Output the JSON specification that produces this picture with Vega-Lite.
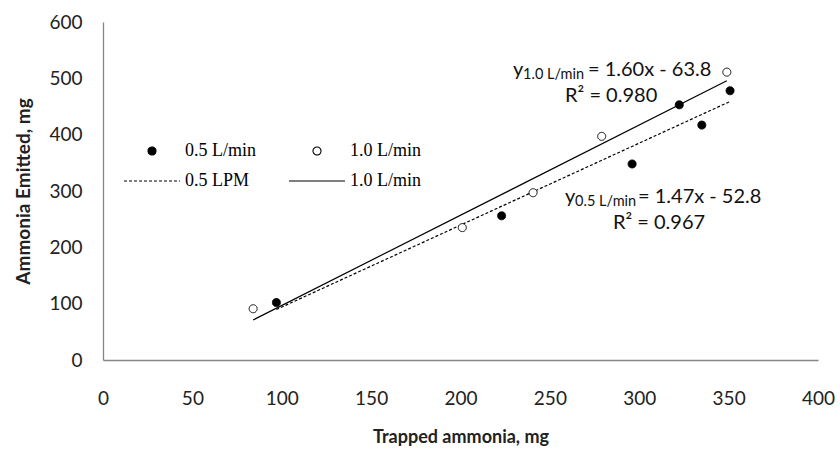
{
  "$schema": "https://vega.github.io/schema/vega-lite/v6.json",
  "width": 715,
  "height": 338,
  "autosize": {"type": "none"},
  "padding": {"left": 103, "top": 22, "right": 22, "bottom": 89},
  "background": "white",
  "config": {
    "view": {"stroke": null},
    "font": "Lato",
    "legend": {
      "title": null, "orient": "none", "legendX": 40, "legendY": 120,
      "direction": "horizontal",
      "columns": 2, "columnPadding": 30, "rowPadding": 12,
      "labelFont": "Liberation Serif", "labelFontSize": 18, "labelColor": "black", "labelOffset": 24,
      "symbolSize": 64, "symbolStrokeWidth": 1.1, "symbolOpacity": 1
    }
  },
  "datasets": {
    "pts": [
      {"key": "pt05", "x": 97, "y": 102},
      {"key": "pt05", "x": 223, "y": 256},
      {"key": "pt05", "x": 296, "y": 348},
      {"key": "pt05", "x": 322.4, "y": 453},
      {"key": "pt05", "x": 335, "y": 417},
      {"key": "pt05", "x": 350.8, "y": 478},
      {"key": "pt10", "x": 84, "y": 91},
      {"key": "pt10", "x": 201, "y": 235},
      {"key": "pt10", "x": 240.6, "y": 297},
      {"key": "pt10", "x": 279, "y": 397},
      {"key": "pt10", "x": 349, "y": 511}
    ],
    "ann": [
      {"kind": "main", "x": 229.4, "y": 504.1, "label": "y"},
      {"kind": "main", "x": 271.3, "y": 504.1, "label": "= 1.60x - 63.8"},
      {"kind": "main", "x": 258.5, "y": 458, "label": "R² = 0.980"},
      {"kind": "main", "x": 258.5, "y": 278.7, "label": "y"},
      {"kind": "main", "x": 299.3, "y": 278.7, "label": "= 1.47x - 52.8"},
      {"kind": "main", "x": 285.3, "y": 232.5, "label": "R² = 0.967"},
      {"kind": "sub", "x": 235, "y": 498.8, "label": "1.0 L/min"},
      {"kind": "sub", "x": 264.1, "y": 273.4, "label": "0.5 L/min"}
    ]
  },
  "encoding": {
    "x": {
      "field": "x", "type": "quantitative",
      "scale": {"domain": [0, 400], "nice": false, "zero": false},
      "axis": {
        "title": "Trapped ammonia, mg",
        "values": [0, 50, 100, 150, 200, 250, 300, 350, 400],
        "grid": false, "ticks": false, "tickSize": 0,
        "domainColor": "#868686", "domainWidth": 1.3,
        "labelFont": "Lato", "labelFontSize": 19, "labelColor": "#222222",
        "labelPadding": 29, "labelFlush": false, "labelOverlap": false,
        "titleFont": "Lato", "titleFontSize": 18, "titleFontWeight": "bold", "titleColor": "#222222",
        "titleY": 77, "titleBaseline": "middle"
      }
    },
    "y": {
      "field": "y", "type": "quantitative",
      "scale": {"domain": [0, 600], "nice": false, "zero": false},
      "axis": {
        "title": "Ammonia Emitted, mg",
        "values": [0, 100, 200, 300, 400, 500, 600],
        "grid": false, "ticks": false, "tickSize": 0,
        "domainColor": "#868686", "domainWidth": 1.3,
        "labelFont": "Lato", "labelFontSize": 19, "labelColor": "#222222",
        "labelPadding": 21, "labelOverlap": false,
        "titleFont": "Lato", "titleFontSize": 19, "titleFontWeight": "bold", "titleColor": "#222222",
        "titleX": -80, "titleBaseline": "middle"
      }
    }
  },
  "layer": [
    {
      "data": {"name": "pts"},
      "transform": [{"filter": "datum.key == 'pt05'"}, {"regression": "y", "on": "x"}],
      "mark": {"type": "line", "color": "black", "strokeWidth": 1.2, "strokeDash": [3, 2]},
      "encoding": {}
    },
    {
      "data": {"name": "pts"},
      "transform": [{"filter": "datum.key == 'pt10'"}, {"regression": "y", "on": "x"}],
      "mark": {"type": "line", "color": "black", "strokeWidth": 1.2},
      "encoding": {}
    },
    {
      "data": {"name": "pts"},
      "mark": {"type": "point", "filled": true, "size": 64, "opacity": 1, "strokeWidth": 1},
      "encoding": {
        "shape": {
          "field": "key", "type": "nominal",
          "scale": {"domain": ["pt05", "pt10", "ln05", "ln10"], "range": ["circle", "circle", "M-7,0H7", "M-7,0H7"]},
          "legend": {"labelExpr": "datum.value == 'pt05' ? '0.5 L/min' : datum.value == 'ln05' ? '0.5 LPM' : '1.0 L/min'"}
        },
        "fill": {
          "field": "key", "type": "nominal",
          "scale": {"domain": ["pt05", "pt10", "ln05", "ln10"], "range": ["black", "white", "transparent", "transparent"]},
          "legend": {"labelExpr": "datum.value == 'pt05' ? '0.5 L/min' : datum.value == 'ln05' ? '0.5 LPM' : '1.0 L/min'"}
        },
        "stroke": {
          "field": "key", "type": "nominal",
          "scale": {"domain": ["pt05", "pt10", "ln05", "ln10"], "range": ["black", "black", "black", "black"]},
          "legend": {"labelExpr": "datum.value == 'pt05' ? '0.5 L/min' : datum.value == 'ln05' ? '0.5 LPM' : '1.0 L/min'"}
        },
        "strokeDash": {
          "field": "key", "type": "nominal",
          "scale": {"domain": ["pt05", "pt10", "ln05", "ln10"], "range": [[1, 0], [1, 0], [3, 2], [1, 0]]},
          "legend": {"labelExpr": "datum.value == 'pt05' ? '0.5 L/min' : datum.value == 'ln05' ? '0.5 LPM' : '1.0 L/min'"}
        }
      }
    },
    {
      "data": {"name": "ann"},
      "transform": [{"filter": "datum.kind == 'main'"}],
      "mark": {"type": "text", "align": "left", "baseline": "alphabetic", "font": "Lato", "fontSize": 20, "color": "#111111"},
      "encoding": {"text": {"field": "label"}}
    },
    {
      "data": {"name": "ann"},
      "transform": [{"filter": "datum.kind == 'sub'"}],
      "mark": {"type": "text", "align": "left", "baseline": "alphabetic", "font": "Lato", "fontSize": 14.5, "color": "#111111"},
      "encoding": {"text": {"field": "label"}}
    }
  ]
}
